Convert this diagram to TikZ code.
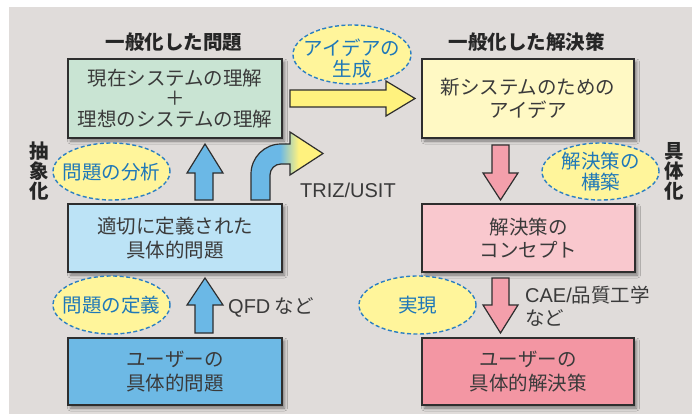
\documentclass[tikz,border=0pt]{standalone}
\usepackage{fontspec}
\setmainfont{Noto Sans CJK JP}
\newfontfamily\latfont{Liberation Sans}
\usetikzlibrary{shapes.geometric,shadows.blur}
\definecolor{bg}{HTML}{E0DCDA}
\definecolor{boxA}{HTML}{C9E4D3}
\definecolor{boxB}{HTML}{FFF9C4}
\definecolor{boxC}{HTML}{BCE3F6}
\definecolor{boxD}{HTML}{6DB9E5}
\definecolor{boxE}{HTML}{F9C8CE}
\definecolor{boxF}{HTML}{F396A3}
\definecolor{ellfill}{HTML}{FFF59B}
\definecolor{ellline}{HTML}{2B7FC2}
\definecolor{elltext}{HTML}{1F78B8}
\definecolor{arrblue}{HTML}{6BB8E6}
\definecolor{arrpink}{HTML}{F49FAB}
\definecolor{arryellow}{HTML}{FFF27E}
\definecolor{txt}{HTML}{3A3A3A}
\definecolor{edge}{HTML}{2E2E2E}
\pgfdeclarehorizontalshading{trizshade}{100bp}{color(0bp)=(arrblue); color(45bp)=(arrblue); color(58bp)=(arryellow); color(100bp)=(arryellow)}
\begin{document}
\begin{tikzpicture}[x=1pt,y=1pt,
  box/.style={draw=edge, line width=1.3pt, text=txt, align=center,
    font=\fontsize{19.5}{23.5}\selectfont, inner sep=0pt,
    blur shadow={shadow xshift=2.5pt, shadow yshift=-3pt, shadow blur radius=3pt, shadow opacity=45}},
  idea/.style={ellipse, draw=ellline, dash pattern=on 4pt off 2.5pt, line width=1.4pt,
    fill=ellfill, inner sep=0pt},
  idealabel/.style={text=elltext, align=center, font=\fontsize{19.5}{21}\selectfont, inner sep=0pt},
  titletext/.style={font=\bfseries\fontsize{19.5}{20}\selectfont, text=black!85, inner sep=0pt},
  vlabel/.style={font=\bfseries\fontsize{19.5}{20}\selectfont, text=black!85, align=center, inner sep=0pt},
  note/.style={font=\fontsize{19.5}{23}\selectfont, text=txt, inner sep=0pt},
  blockarrow/.style={draw=edge, line width=1.2pt, line join=miter}
]
\useasboundingbox (0,0) rectangle (692,-414);
\fill[white] (0,0) rectangle (692,-414);
\fill[bg] (9,-7) rectangle (692,-414);

% titles
\node[titletext] (t1) at (174,-42) {一般化した問題};
\node[titletext] (t2) at (526.5,-42) {一般化した解決策};

% vertical labels
\node[vlabel] (v1) at (39,-171) {抽\\象\\化};
\node[vlabel] (v2) at (674,-171) {具\\体\\化};

% boxes
\node[box, fill=boxA, minimum width=214pt, minimum height=79pt, font=\fontsize{19.5}{20.5}\selectfont] (A) at (175,-98.5) {現在システムの理解\\＋\\理想のシステムの理解};
\node[box, fill=boxB, minimum width=212pt, minimum height=79pt] (B) at (528,-98.5) {新システムのための\\アイデア};
\node[box, fill=boxC, minimum width=214pt, minimum height=68pt] (C) at (175,-238) {適切に定義された\\具体的問題};
\node[box, fill=boxD, minimum width=214pt, minimum height=67pt] (D) at (175,-371.5) {ユーザーの\\具体的問題};
\node[box, fill=boxE, minimum width=213pt, minimum height=68pt] (E) at (528.5,-238) {解決策の\\コンセプト};
\node[box, fill=boxF, minimum width=212pt, minimum height=67pt] (F) at (528,-371.5) {ユーザーの\\具体的解決策};

% block arrows
\draw[blockarrow, fill=arrblue] (195,-200) -- (195,-173) -- (187,-173) -- (205,-144) -- (223,-173) -- (213,-173) -- (213,-200) -- cycle;
\draw[blockarrow, fill=arrblue] (195,-333) -- (195,-305) -- (187,-305) -- (205,-278) -- (223,-305) -- (213,-305) -- (213,-333) -- cycle;
\draw[blockarrow, fill=arrpink] (492,-145) -- (509,-145) -- (509,-173) -- (518,-173) -- (500.5,-200) -- (483,-173) -- (492,-173) -- cycle;
\draw[blockarrow, fill=arrpink] (492,-278) -- (509,-278) -- (509,-305) -- (518,-305) -- (500.5,-333) -- (483,-305) -- (492,-305) -- cycle;
\draw[blockarrow, fill=arryellow] (290,-90) -- (386,-90) -- (386,-81) -- (415,-98.5) -- (386,-116) -- (386,-107) -- (290,-107) -- cycle;
\shadedraw[blockarrow, shading=trizshade] (251,-200) -- (251,-174) arc[start angle=180, end angle=90, radius=30] -- (290,-144) -- (290,-132) -- (323,-153.5) -- (290,-175) -- (290,-164) -- (281,-164) arc[start angle=90, end angle=180, radius=11] -- (270,-200) -- cycle;

% ellipses
\node[idea, minimum width=118pt, minimum height=59pt] (e1) at (352,-54.5) {};
\node[idealabel] (e1t) at (352,-58.5) {アイデアの\\生成};
\node[idea, minimum width=117pt, minimum height=57pt] (e2) at (111.5,-171.5) {};
\node[idealabel] (e2t) at (111.5,-172.5) {問題の分析};
\node[idea, minimum width=117pt, minimum height=57pt] (e3) at (600.5,-171.5) {};
\node[idealabel] (e3t) at (600.5,-171.5) {解決策の\\構築};
\node[idea, minimum width=117pt, minimum height=58pt] (e4) at (111.5,-305) {};
\node[idealabel] (e4t) at (111.5,-305) {問題の定義};
\node[idea, minimum width=117pt, minimum height=58pt] (e5) at (417.5,-305) {};
\node[idealabel] (e5t) at (417.5,-305) {実現};

% notes
\node[note, anchor=west] (n1) at (300,-190) {\latfont\fontsize{20}{23}\selectfont TRIZ/USIT};
\node[note, anchor=west] (n2) at (228,-307) {{\latfont\fontsize{20}{23}\selectfont QFD} など};
\node[note, anchor=west, align=left] (n3) at (525,-306.5) {{\latfont\fontsize{20}{23}\selectfont CAE/}品質工学\\など};
\end{tikzpicture}
\end{document}
